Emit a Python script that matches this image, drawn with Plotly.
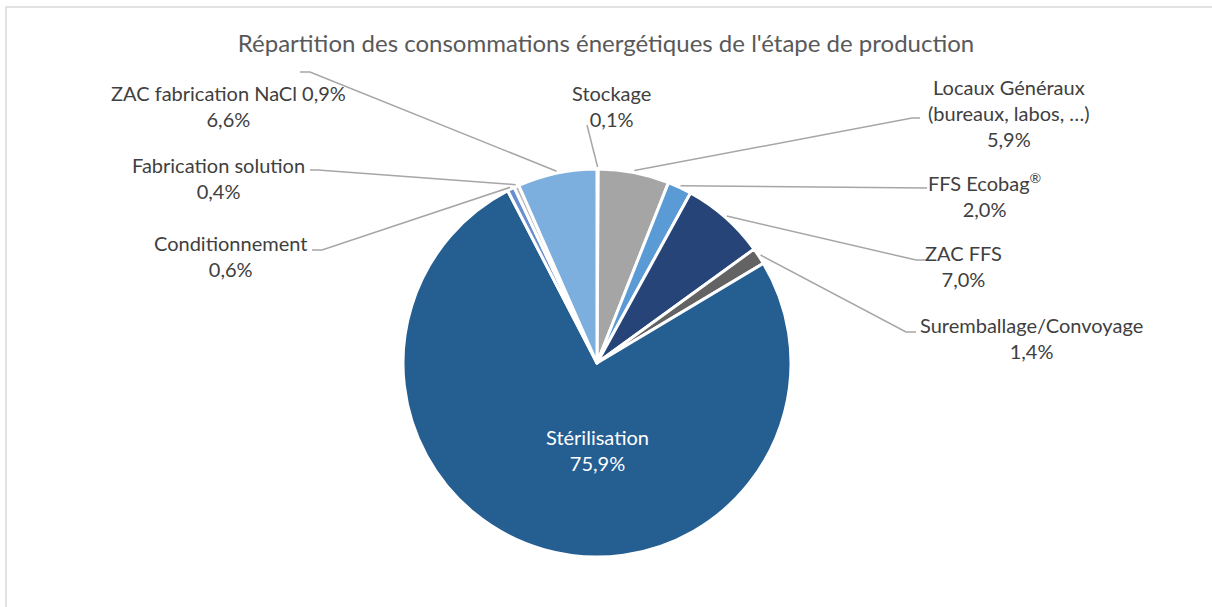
import math
import plotly.graph_objects as go

# Energy consumption breakdown of the production stage (%)
categories = [
    "Stockage",
    "Locaux Généraux<br>(bureaux, labos, …)",
    "FFS Ecobag<sup>®</sup>",
    "ZAC FFS",
    "Suremballage/Convoyage",
    "Stérilisation",
    "Conditionnement",
    "Fabrication solution",
    "ZAC fabrication NaCl 0,9%",
]
values = [0.1, 5.9, 2.0, 7.0, 1.4, 75.9, 0.6, 0.4, 6.6]
colors = ["#4472C4", "#A5A5A5", "#5B9BD5", "#264478", "#636363",
          "#255E91", "#698ED0", "#B7B7B7", "#7CAFDD"]

W, H = 1212, 607
CX, CY, R = 597, 363, 194          # pie centre and radius in pixels

# label block centres and leader-line anchor points (pixels)
label_pos = [(611, 106), (1009, 113), (984, 195), (963, 266), (1031, 338),
             (597, 450), (230, 256), (218, 178), (228, 106)]
leader_start = [
    [(587, 125)],
    [(920, 118), (912, 118)],
    [(927, 188)],
    [(926, 260), (916, 260)],
    [(916, 332), (906, 332)],
    None,
    [(312, 250), (322, 250)],
    [(310, 170), (318, 170)],
    [(300, 72), (310, 72)],
]


def px(x):
    return x / W


def py(y):
    return 1 - y / H


def fmt(v):
    return f"{v:.1f}".replace(".", ",") + "%"


fig = go.Figure(go.Pie(
    labels=categories,
    values=values,
    sort=False,
    direction="clockwise",
    rotation=0,
    marker=dict(colors=colors, line=dict(color="white", width=3)),
    textinfo="none",
    hoverinfo="skip",
    showlegend=False,
    domain=dict(x=[px(CX - R), px(CX + R)], y=[py(CY + R), py(CY - R)]),
))

total = sum(values)
cum = 0.0
shapes = []
annotations = []
for i, (lab, v) in enumerate(zip(categories, values)):
    mid = (cum + v / 2) / total * 2 * math.pi
    cum += v
    lx, ly = label_pos[i]
    inside = leader_start[i] is None
    annotations.append(dict(
        x=px(lx), y=py(ly), xref="paper", yref="paper",
        text=f"{lab}<br>{fmt(v)}", showarrow=False,
        xanchor="center", yanchor="middle", align="center",
        font=dict(family="Lato, Calibri, sans-serif", size=20,
                  color="white" if inside else "#404040"),
    ))
    if inside:
        continue
    ex = CX + (R + 2) * math.sin(mid)
    ey = CY - (R + 2) * math.cos(mid)
    pts = leader_start[i] + [(ex, ey)]
    path = "M " + " L ".join(f"{px(x):.5f},{py(y):.5f}" for x, y in pts)
    shapes.append(dict(type="path", path=path, xref="paper", yref="paper",
                       line=dict(color="#A6A6A6", width=1.5)))

# chart-area frame
shapes.append(dict(type="rect", xref="paper", yref="paper",
                   x0=px(6), y0=-0.02, x1=1.02, y1=py(7),
                   line=dict(color="#D9D9D9", width=1.5)))

fig.update_layout(
    width=W, height=H,
    margin=dict(l=0, r=0, t=0, b=0),
    paper_bgcolor="white",
    plot_bgcolor="white",
    separators=", ",
    title=dict(
        text="Répartition des consommations énergétiques de l'étape de production",
        x=0.5, xanchor="center", y=py(44), yanchor="middle",
        font=dict(family="Lato, Calibri, sans-serif", size=24, color="#595959"),
    ),
    shapes=shapes,
    annotations=annotations,
)

fig.write_html("out.html")
